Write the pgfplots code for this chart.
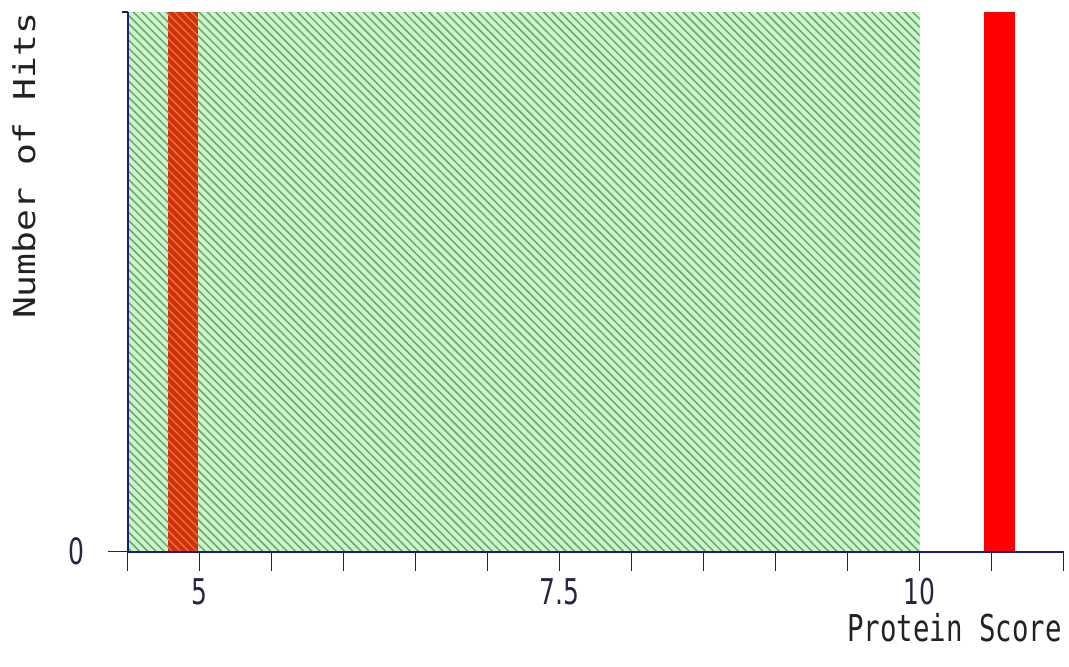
\documentclass[border=0pt]{standalone}
\usepackage{fontspec}
\setmainfont{DejaVu Sans Mono}
\newfontfamily\digitfont{DejaVu Sans}
\usepackage{pgfplots}
\pgfplotsset{compat=1.18}
\usetikzlibrary{patterns.meta}
\definecolor{axisblue}{HTML}{1C1C7A}
\definecolor{hatchbg}{HTML}{CDF5CD}
\definecolor{hatchline}{HTML}{6AA86A}
\definecolor{darkbar}{HTML}{CC3208}
\definecolor{barline}{HTML}{EE6A40}
\definecolor{labelgray}{HTML}{222222}
\definecolor{ticklab}{HTML}{25254A}
\begin{document}
\begin{tikzpicture}
\path[use as bounding box] (0pt,0pt) rectangle (534.5pt,333pt);
\begin{axis}[
  at={(63.75pt,57.25pt)}, anchor=south west,
  scale only axis, width=468pt, height=269.75pt,
  xmin=4.5, xmax=11, ymin=0, ymax=1,
  axis lines*=left,
  axis line style={-, draw=axisblue, line width=1pt},
  axis on top,
  tick align=outside,
  major tick length=9.5pt,
  tick style={draw=axisblue, line width=0.8pt},
  xtick={4.5,5,5.5,6,6.5,7,7.5,8,8.5,9,9.5,10,10.5,11},
  xticklabels={,5,,,,,7.5,,,,,10,,},
  ytick={0},
  yticklabels={0},
  extra y ticks={1},
  extra y tick labels={},
  extra y tick style={major tick length=3pt},
  /pgf/number format/assume math mode=true,
  xticklabel style={font=\digitfont\fontsize{12.5}{14}\selectfont, text=ticklab, yscale=1.42, yshift=-1.5pt, inner sep=1pt},
  yticklabel style={font=\digitfont\fontsize{12.5}{14}\selectfont, text=ticklab, yscale=1.45, xshift=-8.5pt},
  xlabel={Protein Score},
  xlabel style={at={(rel axis cs:0.8835,-0.142)}, anchor=center, inner sep=0pt, font=\fontsize{13.7}{16}\selectfont, text=labelgray, yscale=1.35},
  ylabel={Number of Hits},
  ylabel style={at={(rel axis cs:-0.1106,0.7146)}, anchor=center, font=\fontsize{15}{18}\selectfont, text=labelgray, xscale=1.21},
]
\addplot[draw=none, fill=hatchbg, postaction={pattern color=hatchline, pattern={Lines[angle=-45,distance=2.9pt,line width=0.75pt]}}]
  coordinates {(4.5,1) (10,1)} \closedcycle;
\addplot[draw=none, fill=darkbar, postaction={pattern color=barline, pattern={Lines[angle=-45,distance=2.9pt,line width=0.75pt]}}]
  coordinates {(4.78,1) (4.99,1)} \closedcycle;
\addplot[draw=none, fill=red] coordinates {(10.45,1) (10.66,1)} \closedcycle;
\end{axis}
\end{tikzpicture}
\end{document}
